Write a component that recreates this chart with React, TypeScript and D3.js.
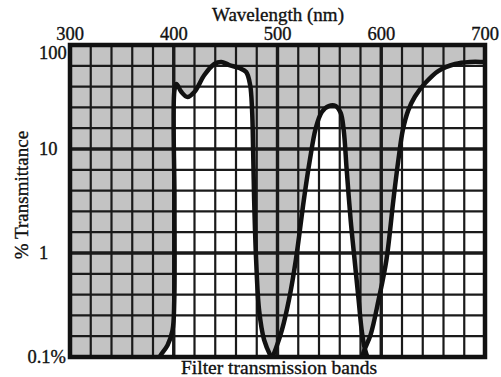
import React, { useEffect, useRef } from 'react';
import * as d3 from 'd3';

// wavelength (nm), transmittance (%)
const band1: [number, number][] = [
  [376.7, 0.06], [386.3, 0.1], [394.0, 0.13], [398.8, 0.18], [400.5, 0.35],
  [400.7, 3.2], [400.7, 36.9], [402.6, 42.2], [407.4, 35.3], [413.2, 31.6],
  [419.9, 35.3], [429.5, 51.5], [439.1, 65.7], [445.8, 68.7], [453.5, 64.2],
  [463.1, 60.1], [469.8, 55.0], [473.6, 41.3], [475.5, 23.7], [476.5, 9.8],
  [477.5, 3.2], [479.4, 0.86], [482.3, 0.28], [487.1, 0.146], [493.8, 0.1],
  [506.2, 0.063],
];
const band2: [number, number][] = [
  [484.2, 0.063], [491.8, 0.084], [498.6, 0.122], [504.3, 0.182], [511.0, 0.353],
  [517.7, 0.86], [525.4, 3.24], [531.2, 7.84], [536.9, 15.9], [542.7, 22.7],
  [549.4, 25.9], [556.1, 25.9], [560.9, 22.2], [563.8, 15.2], [566.7, 6.29],
  [570.5, 2.08], [574.3, 0.86], [578.2, 0.353], [581.1, 0.182], [584.0, 0.122],
  [589.7, 0.084], [597.4, 0.063],
];
const band3: [number, number][] = [
  [576.3, 0.063], [583.0, 0.112], [589.7, 0.163], [597.4, 0.353], [605.0, 0.86],
  [611.7, 3.24], [616.5, 7.84], [620.8, 15.2], [626.0, 23.5], [632.5, 32.0],
  [642.4, 43.1], [654.9, 56.2], [671.2, 65.7], [685.6, 68.7], [700, 68.7],
  [710, 68.7],
];
const bands = [band1, band2, band3];

const wavelengthTicks = [300, 400, 500, 600, 700];
const transTicks = [100, 10, 1, 0.1];
const transLabels = ['100', '10', '1', '0.1%'];

const App = () => {
  const svgRef = useRef<SVGSVGElement>(null);

  useEffect(() => {
    const W = 501;
    const H = 377;
    const left = 70, right = 485, top = 45, bottom = 357;
    const font = '"Liberation Serif", "Times New Roman", serif';
    const ink = '#111';

    const svg = d3.select(svgRef.current);
    svg.selectAll('*').remove();
    svg.attr('width', W).attr('height', H);

    const x = d3.scaleLinear().domain([300, 700]).range([left, right]);
    const y = d3.scaleLog().domain([0.1, 100]).range([bottom, top]);

    svg.append('rect').attr('width', W).attr('height', H).attr('fill', 'white');

    svg.append('clipPath').attr('id', 'plot-clip')
      .append('rect')
      .attr('x', left).attr('y', top)
      .attr('width', right - left).attr('height', bottom - top);

    const plot = svg.append('g').attr('clip-path', 'url(#plot-clip)');

    // shaded (blocked) region
    plot.append('rect')
      .attr('x', left).attr('y', top)
      .attr('width', right - left).attr('height', bottom - top)
      .attr('fill', '#c3c3c3');

    const curve = d3.curveCatmullRom.alpha(0.5);
    const area = d3.area<[number, number]>()
      .x(d => x(d[0]))
      .y0(bottom + 30)
      .y1(d => y(d[1]))
      .curve(curve);
    const line = d3.line<[number, number]>()
      .x(d => x(d[0]))
      .y(d => y(d[1]))
      .curve(curve);

    bands.forEach(b => {
      plot.append('path').datum(b).attr('d', area).attr('fill', 'white');
    });

    // grid: every 20 nm, 5 steps per decade
    const xGrid = d3.range(300, 701, 20);
    xGrid.forEach(v => {
      const major = v % 100 === 0;
      plot.append('line')
        .attr('x1', x(v)).attr('x2', x(v))
        .attr('y1', top).attr('y2', bottom)
        .attr('stroke', '#1a1a1a')
        .attr('stroke-width', major ? 3.4 : 2.2);
    });
    const yGrid = d3.range(-1, 2.01, 0.2).map(e => Math.pow(10, e));
    yGrid.forEach((v, i) => {
      const major = i % 5 === 0;
      plot.append('line')
        .attr('x1', left).attr('x2', right)
        .attr('y1', y(v)).attr('y2', y(v))
        .attr('stroke', '#1a1a1a')
        .attr('stroke-width', major ? 3.4 : 2.2);
    });

    bands.forEach(b => {
      plot.append('path').datum(b)
        .attr('d', line)
        .attr('fill', 'none')
        .attr('stroke', ink)
        .attr('stroke-width', 4.5)
        .attr('stroke-linejoin', 'round');
    });

    svg.append('rect')
      .attr('x', left).attr('y', top)
      .attr('width', right - left).attr('height', bottom - top)
      .attr('fill', 'none')
      .attr('stroke', ink)
      .attr('stroke-width', 4.5);

    const txt = (sel: any, size: number) => sel
      .attr('font-family', font)
      .attr('font-size', size)
      .attr('fill', ink)
      .attr('stroke', ink)
      .attr('stroke-width', 0.35);

    // top axis labels
    svg.append('g').selectAll('text')
      .data(wavelengthTicks)
      .join('text')
      .attr('x', d => x(d))
      .attr('y', 40)
      .attr('text-anchor', 'middle')
      .call(txt, 18.5)
      .text(d => d);

    svg.append('text')
      .attr('x', 278).attr('y', 21)
      .attr('text-anchor', 'middle')
      .call(txt, 19)
      .text('Wavelength (nm)');

    // left axis labels
    svg.append('g').selectAll('text')
      .data(transTicks)
      .join('text')
      .attr('x', (d, i) => (i === 3 ? 66 : 39))
      .attr('y', (d, i) => y(d) + (i === 0 ? 14 : 6))
      .attr('text-anchor', (d, i) => (i === 3 ? 'end' : 'start'))
      .call(txt, 18.5)
      .text((d, i) => transLabels[i]);

    svg.append('text')
      .attr('transform', 'translate(28,195) rotate(-90)')
      .attr('text-anchor', 'middle')
      .call(txt, 19)
      .text('% Transmittance');

    svg.append('text')
      .attr('x', 279).attr('y', 374)
      .attr('text-anchor', 'middle')
      .call(txt, 19.5)
      .text('Filter transmission bands');
  }, []);

  return <svg ref={svgRef} style={{ position: 'absolute', left: 0, top: 0 }} />;
};

export default App;
